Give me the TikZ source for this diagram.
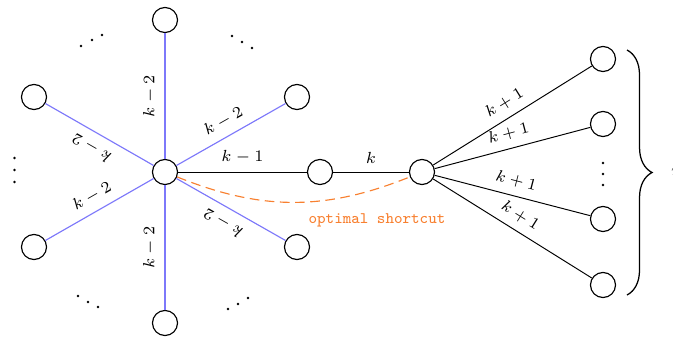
\documentclass[tikz,border=0pt]{standalone}
\usetikzlibrary{decorations.pathreplacing}
\definecolor{edgeblue}{RGB}{125,120,250}
\definecolor{shortorange}{RGB}{248,128,48}
\begin{document}
\begin{tikzpicture}[x=0.4348pt,y=-0.4348pt,
  vtx/.style={circle,draw,line width=0.5pt,minimum size=10.9pt,inner sep=0pt},
  bedge/.style={draw=edgeblue,line width=0.5pt},
  kedge/.style={draw=black,line width=0.42pt},
  lab/.style={font=\scriptsize,inner sep=3.5pt,text=black},
  slab/.style={lab,sloped,allow upside down,above},
  shortcut/.style={draw=shortorange,line width=0.5pt,dash pattern=on 4.2pt off 2.4pt},
  sclabel/.style={font=\scriptsize\ttfamily,text=shortorange,inner sep=1pt},
  dotmark/.style={fill=black},
  bracestyle/.style={draw,line width=0.55pt,decorate,decoration={brace,amplitude=10.9pt}}]
\useasboundingbox (0,0) rectangle (673,340);

% vertices
\node[vtx] (C)  at (165,172) {};
\node[vtx] (T)  at (165,20)  {};
\node[vtx] (B)  at (165,323) {};
\node[vtx] (UL) at (34,97)   {};
\node[vtx] (UR) at (297,97)  {};
\node[vtx] (LL) at (34,247)  {};
\node[vtx] (LR) at (297,247) {};
\node[vtx] (M)  at (320,172) {};
\node[vtx] (R)  at (422,172) {};
\node[vtx] (L1) at (603,59)  {};
\node[vtx] (L2) at (603,124) {};
\node[vtx] (L3) at (603,219) {};
\node[vtx] (L4) at (603,285) {};

% star edges
\draw[bedge] (C) -- node[slab] {$k-2$} (T);
\draw[bedge] (C) -- node[slab] {$k-2$} (UR);
\draw[bedge] (C) -- node[slab] {$k-2$} (UL);
\draw[bedge] (LL) -- node[slab] {$k-2$} (C);
\draw[bedge] (LR) -- node[slab] {$k-2$} (C);
\draw[bedge] (B) -- node[slab] {$k-2$} (C);

% path edges
\draw[kedge] (C) -- node[lab,above] {$k-1$} (M);
\draw[kedge] (M) -- node[lab,above] {$k$} (R);

% fan edges
\draw[kedge] (R) -- node[slab] {$k+1$} (L1);
\draw[kedge] (R) -- node[slab] {$k+1$} (L2);
\draw[kedge] (R) -- node[slab] {$k+1$} (L3);
\draw[kedge] (R) -- node[slab] {$k+1$} (L4);

% shortcut
\draw[shortcut] (C) to[bend right=22] (R);
\node[sclabel] (sc) at (377,220) {optimal shortcut};

% dots
\foreach \p in {(81,46),(92,40),(102,35),
                (232,36),(242,42),(252,48),
                (78,296),(88,302),(98,307),
                (228,309),(238,304),(248,298),
                (14.5,158),(14.5,170),(14.5,182),
                (603,163),(603,174),(603,185)}
  \fill[dotmark] \p circle[radius=0.6pt];

% brace
\coordinate (btop) at (627,50);
\coordinate (bbot) at (627,295);
\draw[bracestyle] (btop) -- (bbot);
\node[font=\scriptsize,anchor=west] (blab) at (663,172) {$n$};
\end{tikzpicture}
\end{document}
